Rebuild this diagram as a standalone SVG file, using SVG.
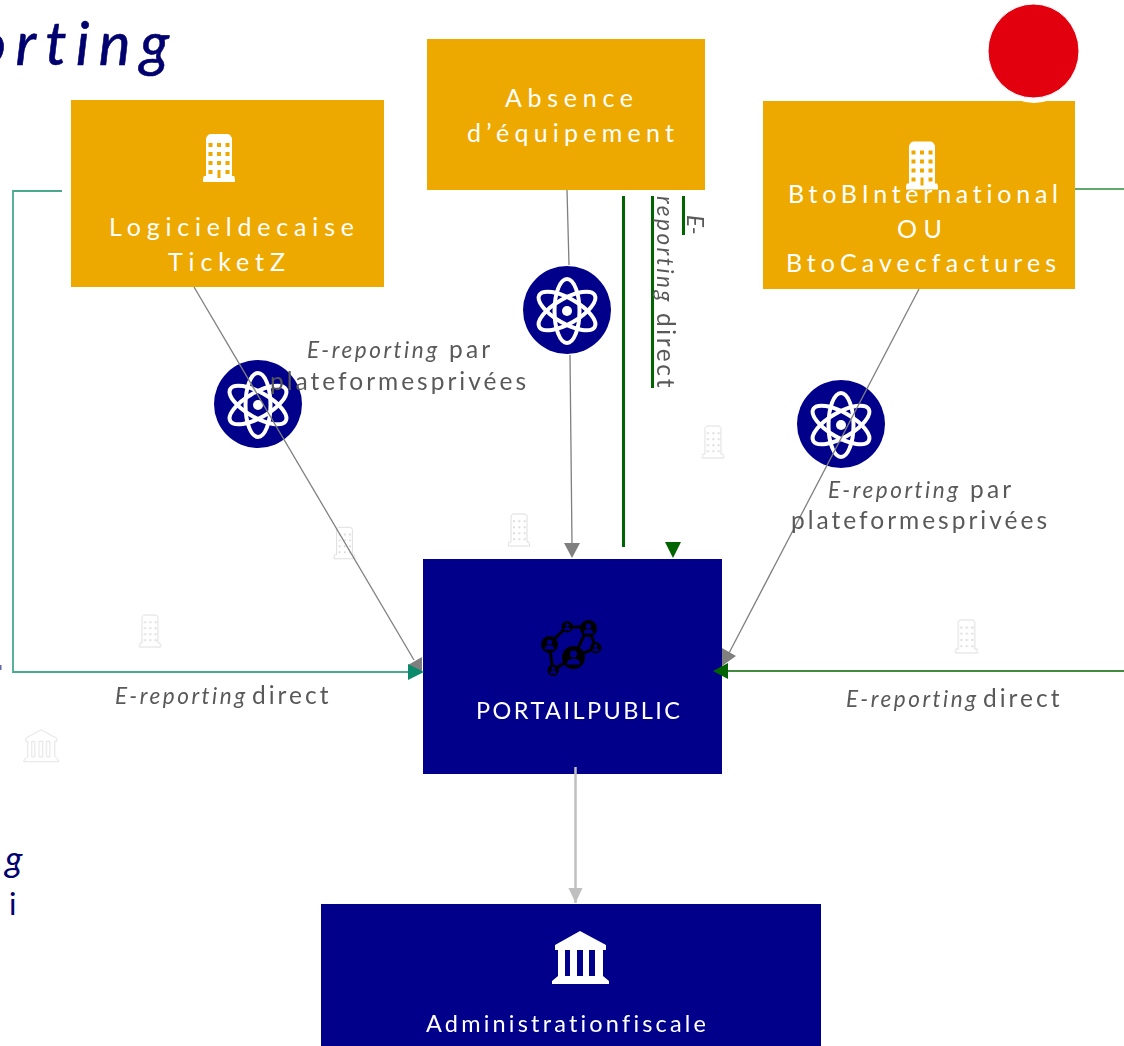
<svg xmlns="http://www.w3.org/2000/svg" width="1124" height="1046" viewBox="0 0 1124 1046">
<style>
text{font-family:Lato,"Open Sans","Liberation Sans",sans-serif;font-variant-ligatures:none}
.w{fill:#fff;font-size:25px}
.w2{fill:#fff;font-size:23.500px}
.g{fill:#595959;font-size:24.500px}
.i{font-style:italic;font-size:22.500px}
.t{fill:#00006e}
.tb{stroke:#00006e;stroke-width:.6}
.gr{fill:none;stroke:#7f7f7f;stroke-width:1.300}
.dg{fill:none;stroke:#006400;stroke-width:3}
.ghost{opacity:.13}
</style>
<defs>
<symbol id="bld" viewBox="0 0 32 48" overflow="visible">
<path fill="#fff" d="M3 4 5 1 7 0H25L27 1 29 4V42H31Q32 43 32 48H0Q0 43 1 42H3Z"/>
<g fill="#eda900"><rect x="5.500" y="9" width="4" height="4"/><rect x="14" y="9" width="4" height="4"/><rect x="22.500" y="9" width="4" height="4"/><rect x="5.500" y="18" width="4" height="4"/><rect x="14" y="18" width="4" height="4"/><rect x="22.500" y="18" width="4" height="4"/><rect x="5.500" y="27" width="4" height="4"/><rect x="14" y="27" width="4" height="4"/><rect x="22.500" y="27" width="4" height="4"/><rect x="5.500" y="36" width="4" height="4"/><rect x="14.500" y="36" width="3" height="8"/><rect x="22.500" y="36" width="4" height="4"/></g>
</symbol>
<symbol id="gbld" viewBox="0 0 32 48" overflow="visible">
<g fill="none" stroke="#000" stroke-width="1.500"><path d="M4 4Q4 1 7 0H25Q28 1 28 4V42H31Q32 43 32 48H0Q0 43 1 42H4Z"/><path stroke-width="3" stroke-dasharray="3 5" d="M7 11H26M7 20H26M7 29H26M7 38H26"/></g>
</symbol>
<symbol id="atom" viewBox="-44 -44 88 88" overflow="visible">
<circle r="44" fill="#00008b"/>
<g fill="none" stroke="#fff" stroke-width="4"><ellipse rx="12.500" ry="32" cy="1"/><ellipse rx="12.500" ry="32" cy="1" transform="rotate(60 0 1)"/><ellipse rx="12.500" ry="32" cy="1" transform="rotate(-60 0 1)"/></g>
<circle r="5" cy="1" fill="#fff"/>
</symbol>
<symbol id="temple" viewBox="0 0 58 54" overflow="visible">
<path fill-rule="evenodd" d="M28 0 54 14V19H51V45L57 50V53H0V50L6 45V19H3V14ZM13 19V45H18V19ZM25 19V45H31V19ZM37 19V45H43V19Z"/>
</symbol>
<symbol id="person" viewBox="-10 -10 20 20" overflow="visible">
<circle r="10" fill="#000"/><circle cy="-3" r="3" fill="#00008b"/><path d="M-5.500 5Q-5.500 1 0 1 5.500 1 5.500 5V6H-5.500Z" fill="#00008b"/>
</symbol>
<marker id="ml" markerUnits="userSpaceOnUse" markerWidth="16" markerHeight="16" refX="15" refY="8" orient="auto"><path d="M0 1 15 8 0 15Z" fill="#bfbfbf"/></marker>
</defs>

<rect width="1124" height="1046" fill="#fff"/>

<g id="titles">
<text class="t tb" style="font-style:italic" x="-25" y="65" font-size="60" textLength="194">orting</text>
<text class="t" style="font-style:italic" x="5" y="872" font-size="36">g</text>
<text class="t" x="9" y="915" font-size="31">i</text>
<rect x="0" y="665" width="1.500" height="5" fill="#00006e" opacity=".6"/>
</g>

<g id="ghost-icons" class="ghost">
<use href="#gbld" x="334" y="527" width="21" height="32"/>
<use href="#gbld" x="508" y="514" width="22" height="32"/>
<use href="#gbld" x="702" y="426" width="22" height="32"/>
<use href="#gbld" x="139" y="615" width="22" height="32"/>
<use href="#gbld" x="955" y="620" width="23" height="33"/>
<use href="#temple" x="24" y="729" width="35" height="34" fill="none" stroke="#000" stroke-width="1.500"/>
</g>

<g id="logiciel">
<rect x="71" y="100" width="313" height="187" fill="#eda900"/>
<use href="#bld" x="203" y="134" width="32" height="48"/>
<text class="w" x="109" y="236" textLength="245">Logicieldecaise</text>
<text class="w" x="168" y="271" textLength="117">TicketZ</text>
</g>

<g id="absence">
<rect x="427" y="39" width="278" height="151" fill="#eda900"/>
<text class="w" x="505" y="107" textLength="128">Absence</text>
<text class="w" x="467" y="142" textLength="207">d’équipement</text>
</g>

<g id="btob">
<rect x="763" y="101" width="312" height="188" fill="#eda900"/>
<use href="#bld" x="906" y="141" width="32" height="49"/>
<text class="w" x="788" y="203" textLength="270">BtoBInternational</text>
<text class="w" x="897" y="238" textLength="45">OU</text>
<text class="w" x="786" y="272" textLength="270">BtoCavecfactures</text>
</g>

<g id="red-dot">
<ellipse cx="1033.500" cy="51" rx="45.500" ry="47" fill="#e2000f" stroke="#fff"/>
<path d="M1018 100Q1034 106 1050 100Z" fill="#fff"/>
</g>

<g id="atom-left"><use href="#atom" x="214" y="360" width="88" height="88"/></g>
<g id="atom-center"><use href="#atom" x="523" y="265" width="88" height="90"/></g>
<g id="atom-right"><use href="#atom" x="797" y="380" width="88" height="88"/></g>

<g id="portail">
<rect x="423" y="559" width="299" height="215" fill="#00008b"/>
<path fill="none" stroke="#000" stroke-width="3" d="M549 644 567 627H588L574 657 553 670 549 644ZM588 627 596 648 574 657"/>
<use href="#person" x="541" y="636" width="17" height="17"/>
<use href="#person" x="561.500" y="621" width="11.500" height="11.500"/>
<use href="#person" x="580" y="620" width="17" height="17"/>
<use href="#person" x="590" y="642" width="11.500" height="11.500"/>
<use href="#person" x="562" y="646" width="23" height="23"/>
<use href="#person" x="547.500" y="664.500" width="11.500" height="11.500"/>
<text class="w2" x="476" y="719" textLength="204">PORTAILPUBLIC</text>
</g>

<g id="administration">
<rect x="321" y="904" width="500" height="142" fill="#00008b"/>
<use href="#temple" x="552" y="931" width="58" height="54" fill="#fff"/>
<text class="w2" x="426" y="1032" textLength="280">Administrationfiscale</text>
</g>

<g id="connectors">
<path class="gr" d="M194 287 414 660"/>
<path d="M422 657 408 665 422 672Z" fill="#7f7f7f"/>
<path class="gr" d="M567 190 569 265M570 355 572 545"/>
<path d="M564 543H580L572 558Z" fill="#7f7f7f"/>
<path class="gr" d="M919 289 728 655"/>
<path d="M722 648 736 656 722 666Z" fill="#7f7f7f"/>
<path d="M62 191H13V672H410" fill="none" stroke="#4aa88f" stroke-width="1.800"/>
<path d="M408 664 424 672 408 680Z" fill="#0a8a6a"/>
<path d="M1075 189H1124" fill="none" stroke="#2e8b3e" stroke-width="1.500"/>
<path d="M1124 671H726" fill="none" stroke="#006400" stroke-width="1.500"/>
<path d="M713 671 728 663V679Z" fill="#006400"/>
<path class="dg" d="M623.500 196V547"/>
<path class="dg" d="M683.500 196V235"/>
<path class="dg" d="M652.500 196V388"/>
<path d="M673 558 665 542H681Z" fill="#006400"/>
<path d="M575.500 767V903" fill="none" stroke="#bfbfbf" stroke-width="2.500" marker-end="url(#ml)"/>
</g>

<g id="label-left-platform">
<text class="g" x="307" y="358"><tspan class="i" letter-spacing="2.500">E-reporting</tspan><tspan x="449" letter-spacing="3.200">par</tspan></text>
<text class="g" x="270" y="390" textLength="256">plateformesprivées</text>
</g>
<g id="label-right-platform">
<text class="g" x="828" y="498"><tspan class="i" letter-spacing="2.500">E-reporting</tspan><tspan x="970" letter-spacing="3.200">par</tspan></text>
<text class="g" x="791" y="529" textLength="256">plateformesprivées</text>
</g>
<g id="label-center-direct" transform="translate(657 196) rotate(90)">
<text class="g i" x="19" y="-30">E-</text>
<text class="g" x="0" y="0"><tspan class="i" letter-spacing="2.500">reporting</tspan><tspan x="117" letter-spacing="2.600">direct</tspan></text>
</g>
<g id="label-left-direct"><text class="g" x="115" y="704"><tspan class="i" letter-spacing="2.500">E-reporting</tspan><tspan x="252" letter-spacing="3">direct</tspan></text></g>
<g id="label-right-direct"><text class="g" x="846" y="707"><tspan class="i" letter-spacing="2.500">E-reporting</tspan><tspan x="983" letter-spacing="3">direct</tspan></text></g>
</svg>
